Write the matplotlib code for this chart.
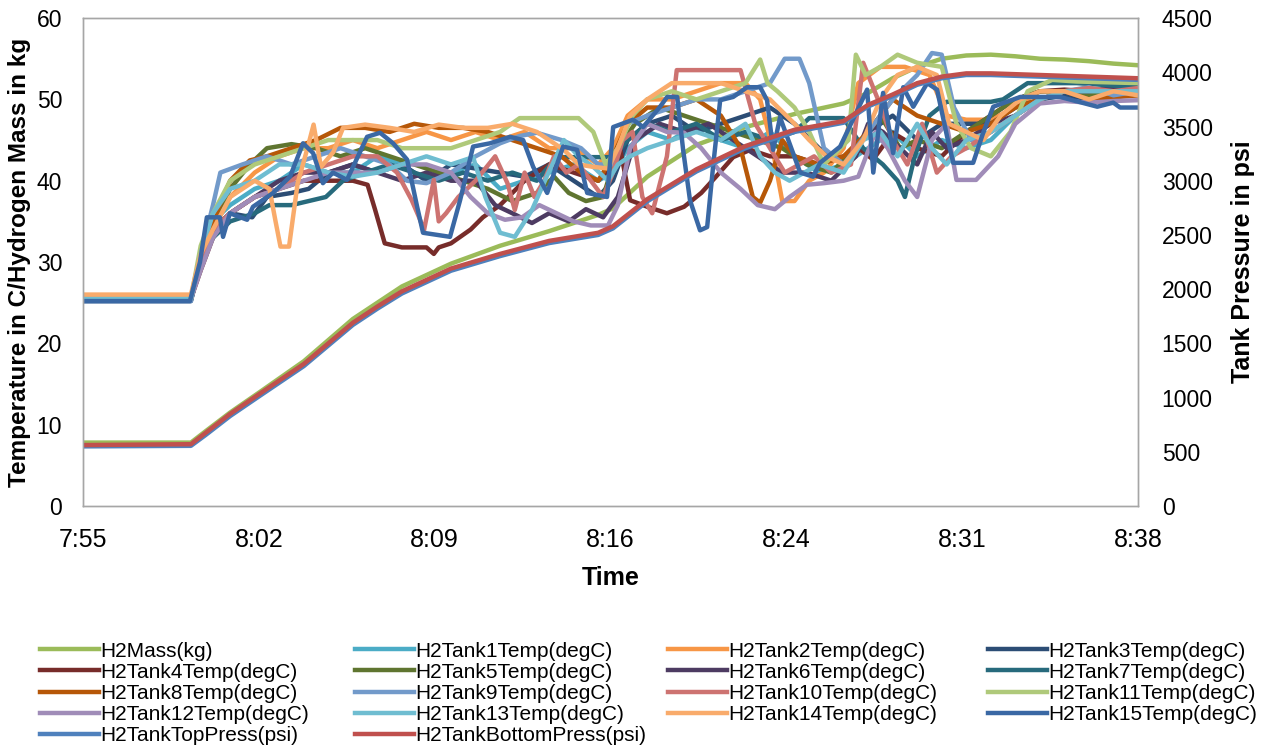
import numpy as np
import matplotlib
matplotlib.use("Agg")
from matplotlib import pyplot as plt

plt.rcParams['font.family'] = ['Liberation Sans', 'DejaVu Sans']

# time axis: minutes after 7:55
span = 43.0
tick_labels = ['7:55', '8:02', '8:09', '8:16', '8:24', '8:31', '8:38']

# (minute, kg)
mass = [(0, 7.8), (4.4, 7.8), (5, 9.2), (6, 11.5), (7.2, 14.0), (9, 17.8), (11, 23.0),
        (12, 25.0), (13, 27.0), (15, 29.8), (17, 32.0), (19, 33.8), (21, 35.8),
        (21.6, 36.6), (23, 40.5), (25, 44.4), (27, 46.6), (29, 48.2), (31, 49.5),
        (32, 50.8), (33, 52.6), (34, 54.0), (35, 55.0), (36, 55.4), (37, 55.5),
        (38, 55.3), (39, 55.0), (40, 54.9), (41, 54.7), (42, 54.4), (43, 54.2)]

# (minute, degC)
tank1 = [(0, 25.5), (4.4, 25.5), (4.8, 31), (5.3, 35), (6, 37), (7, 39), (8, 40), (9, 42),
         (10, 41), (11, 41), (12, 43), (13, 42), (14, 40), (15, 41), (16, 42), (17, 39),
         (18, 40), (19, 41), (20, 42), (21, 40), (21.6, 41), (22.2, 44), (23, 46), (24, 45),
         (25, 47), (26, 45), (27, 44), (28, 46), (29, 43), (30, 41), (31, 42), (32, 44),
         (33, 46), (34, 43), (35, 45), (36, 44), (37, 45), (38, 48), (39, 50), (40, 50.5),
         (41, 51), (43, 50.5)]
tank2 = [(0, 25.8), (4.4, 25.8), (4.8, 30), (5.3, 34), (6, 38), (7, 41), (8, 43), (9, 44),
         (10, 44), (11, 45), (12, 44), (13, 45), (14, 46), (15, 45), (16, 46), (17, 45),
         (18, 46), (19, 44), (20, 44), (21, 42), (21.6, 44), (22.2, 48), (23, 50), (24, 50),
         (25, 51), (26, 52), (27, 52), (27.6, 50), (28.1, 44), (28.5, 37.5), (29, 37.5),
         (29.6, 40), (30.2, 41), (31, 44), (31.6, 52), (32.5, 54), (33.5, 54), (34.5, 53),
         (35.2, 48), (36, 47.5), (37, 47.5), (38, 49), (39, 51), (40, 51), (41, 50),
         (42, 51), (43, 50.5)]
tank3 = [(0, 25.2), (4.4, 25.2), (4.8, 30), (5.3, 34), (6, 36), (6.9, 35.5), (7.5, 38),
         (8.5, 38.5), (9.2, 39), (10, 41), (11, 42), (12, 41), (13, 42), (14, 40), (15, 42),
         (16, 41.5), (17, 41), (18, 40.5), (19, 42), (20, 40), (21, 38), (21.6, 40),
         (22.2, 45), (23, 47), (24, 48), (25, 46), (26, 47), (27, 48), (28, 49), (29, 47),
         (30, 44), (31, 42), (32, 46), (33, 48), (34, 45), (35, 47), (36, 47), (37, 47),
         (38, 49), (39, 50), (40, 50.5), (41, 50), (43, 51)]
tank4 = [(0, 25.5), (4.4, 25.5), (4.8, 29), (5.3, 33), (6, 36), (7, 38), (8, 39), (9, 40),
         (10, 40), (11, 40), (11.6, 39.5), (11.9, 36.5), (12.3, 32.3), (13, 31.8),
         (14, 31.8), (14.3, 31), (14.5, 31.8), (15, 32.3), (15.8, 34), (16.3, 35.5),
         (17, 37), (18, 40), (19, 42), (20, 41), (21, 40), (21.6, 42), (21.9, 43.8),
         (22.3, 37.6), (23, 36.8), (23.8, 36), (24.5, 36.8), (25.2, 38.5), (25.8, 40.5),
         (26.5, 42.9), (27.2, 43.8), (28, 43), (29, 43), (30, 42), (31, 43), (31.7, 43.8),
         (32.2, 42.6), (33, 45.9), (33.5, 45), (34, 44), (35, 43), (36, 46), (37, 48),
         (38, 50), (39, 51), (40, 51.2), (41, 51), (43, 51)]
tank5 = [(0, 25.5), (4.4, 25.5), (4.8, 30), (5.3, 35), (6, 39), (6.8, 42), (7.5, 44),
         (8.5, 44.5), (9.5, 44), (10.5, 43), (11.5, 44), (12.5, 43), (13.5, 42), (14.5, 41),
         (15.5, 40), (16.5, 39), (17.5, 37.5), (18.5, 38.5), (19.2, 40.5), (19.8, 38.5),
         (20.5, 37.5), (21.2, 38), (21.8, 44), (22.5, 47), (23.5, 49), (24.5, 48),
         (25.5, 47), (26.5, 46), (27.5, 45), (28.5, 44), (29.5, 42), (30.5, 41), (31.5, 44),
         (32.5, 48), (33.3, 44), (34, 45), (35, 44), (36, 46), (37, 48), (38, 50), (39, 51),
         (40, 51), (41, 50.5), (43, 51)]
tank6 = [(0, 25.5), (4.4, 25.5), (4.8, 30), (5.3, 34), (6, 36), (7, 38), (8, 40), (9, 41),
         (10, 41), (11, 42), (12, 41), (13, 40), (14, 41), (15, 40), (16, 40), (16.8, 37),
         (17.5, 36), (18.3, 34.8), (19, 36), (19.8, 35), (20.5, 36.5), (21.2, 35.5),
         (21.8, 38), (22.5, 45), (23.5, 47), (24.5, 46), (25.5, 47), (26.5, 45), (27.5, 43),
         (28.5, 41), (29.5, 41), (30.5, 40), (31.5, 43), (32, 47), (32.6, 46), (33.3, 44),
         (34, 42), (34.6, 46), (35.2, 44), (36, 45), (37, 47), (38, 48), (39, 50), (40, 51),
         (41, 51), (42, 51.5), (43, 51.4)]
tank7 = [(0, 25.3), (4.4, 25.3), (4.8, 30), (5.3, 33), (6, 35), (7, 36), (7.6, 37), (8.5, 37),
         (9.2, 37.5), (9.9, 38), (10.6, 40), (11.5, 41), (12.5, 42), (13.5, 41), (14.5, 40),
         (15.5, 41), (16.5, 40), (17.5, 41), (18.5, 40), (19.3, 42.9), (20, 42.9),
         (21, 42.9), (21.6, 42.9), (22.2, 45), (23, 47), (24, 46), (25, 47), (26, 45),
         (27, 46), (28, 45), (29, 46), (29.6, 47.7), (30.4, 47.7), (31, 47.7), (31.8, 44),
         (32.6, 42), (33.2, 40), (33.5, 38), (33.9, 43), (34.5, 48), (35.2, 49.7),
         (36, 49.7), (37, 49.7), (37.5, 50), (38.5, 52), (39.5, 52), (40.5, 52), (43, 51.5)]
tank8 = [(0, 25.5), (4.4, 25.5), (4.8, 31), (5.3, 35), (6, 40), (6.8, 42.5), (7.5, 43),
         (8.5, 44), (9.5, 45), (10.5, 46.5), (11.5, 46.5), (12.5, 46), (13.5, 47),
         (14.5, 46.5), (15.5, 46.5), (16.5, 46), (17.5, 45), (18.5, 44), (19.5, 43),
         (20.3, 41), (21, 40), (21.6, 43), (22.2, 47), (23, 49), (24, 49), (25, 50), (26, 48),
         (26.8, 44), (27.3, 38), (27.6, 37.3), (28, 40), (28.5, 45), (29, 43), (30, 42),
         (31, 43), (32, 46), (33, 50), (34, 48), (35, 47), (36, 46), (37, 47), (38, 49),
         (39, 50), (40, 51), (41, 50), (43, 50.5)]
tank9 = [(0, 25.2), (4.4, 25.2), (4.8, 31), (5.3, 37), (5.6, 41), (6.5, 42), (7.5, 43),
         (8.5, 42), (9.5, 43), (10.5, 44), (11.5, 43), (12.5, 42), (13.2, 40), (14, 39.7),
         (15, 41), (16, 43), (17, 44.6), (17.8, 45.5), (18.5, 45.9), (19.5, 45), (20.3, 44),
         (21, 42), (21.6, 42), (22.2, 47), (23, 48), (24, 49), (25, 50), (26, 50), (27, 51),
         (28, 52), (28.6, 55), (29.2, 55), (29.6, 52), (30.2, 44), (31, 42), (32, 46),
         (33, 50), (34, 53), (34.6, 55.7), (35, 55.5), (35.5, 49), (36.2, 45), (37, 46),
         (38, 48), (39, 50), (40, 51), (41, 51.5), (42, 50.5), (43, 51)]
tank10 = [(0, 25.5), (4.4, 25.5), (4.8, 30), (5.3, 34), (6, 36), (7, 38), (8, 39), (9, 41),
          (10, 42), (11, 43), (12, 43), (12.8, 41), (13.4, 37.6), (13.7, 35.5), (13.9, 33.9),
          (14.1, 37), (14.3, 40.1), (14.5, 35), (14.8, 36), (15.3, 38), (16, 40), (16.8, 43),
          (17.3, 39.7), (17.6, 36.4), (18, 41), (18.4, 38), (18.8, 40), (19.2, 43),
          (19.7, 41), (20.2, 42), (20.7, 40), (21.2, 38), (21.6, 41), (22, 45), (22.4, 46),
          (22.8, 38), (23.2, 36), (23.8, 43), (24.2, 53.6), (26.8, 53.6), (27.4, 47),
          (28, 44), (28.6, 41), (29.2, 42), (29.8, 43), (30.5, 41), (31.3, 42), (31.8, 54.5),
          (32.4, 50), (33, 45), (33.6, 42), (34.2, 47), (34.8, 41), (35.4, 43), (36, 44),
          (37, 46), (38, 48), (39, 50), (40, 51), (41, 51.4), (42, 51), (43, 51.4)]
tank11 = [(0, 25.5), (4.4, 25.5), (4.8, 32), (5.3, 36), (6, 40), (7, 42), (8, 43), (9, 44),
          (10, 45), (11, 45), (12, 45), (13, 44), (14, 44), (15, 44), (16, 45), (17, 46),
          (17.8, 47.7), (18.5, 47.7), (19.5, 47.7), (20.2, 47.7), (20.8, 46), (21.3, 42),
          (21.8, 44), (22.4, 48), (23, 50), (24, 51), (25, 50), (26, 51), (27, 52),
          (27.6, 54.9), (27.9, 52), (28.3, 51), (29, 49), (29.6, 46), (30.2, 42), (31.2, 45),
          (31.5, 55.5), (31.9, 53), (32.5, 54), (33.2, 55.5), (34, 54.5), (35, 54),
          (35.6, 47), (36.2, 44), (37, 43), (37.8, 46), (38.5, 51), (39.5, 52.4),
          (40.5, 52.2), (43, 52)]
tank12 = [(0, 25.5), (4.4, 25.5), (4.8, 29), (5.3, 33), (6, 36), (7, 38), (8, 39), (9, 40),
          (10, 41), (11, 41), (12, 41), (13, 42), (14, 42), (15, 41), (15.8, 38), (16.5, 36),
          (17.2, 35.2), (17.9, 35.5), (18.6, 37), (19.3, 36), (20, 35), (20.7, 34.5),
          (21.4, 34.5), (21.8, 37), (22.3, 44), (23, 47), (23.8, 46), (24.5, 45.9),
          (25.2, 44), (26, 41), (26.8, 39), (27.5, 37), (28.2, 36.5), (28.8, 38), (29.5, 39.5),
          (30.2, 39.7), (31, 40), (31.6, 40.5), (32.3, 46), (32.8, 44), (33.5, 40), (34, 38),
          (34.6, 45), (35.2, 47), (35.6, 40.1), (36.4, 40.1), (37.3, 43), (38, 47),
          (39, 49.5), (40, 49.8), (41, 49.6), (42, 49.8), (43, 49.9)]
tank13 = [(0, 25.5), (4.4, 25.5), (4.8, 31), (5.3, 36), (6, 39), (7, 40), (8, 42), (9, 42),
          (10, 41), (11, 40.5), (12, 41), (13, 42), (14, 43), (15, 42), (15.9, 42.9),
          (16.4, 38), (17, 33.6), (17.6, 33.1), (18.3, 36.4), (18.9, 40.5), (19.6, 45),
          (20.2, 43), (20.8, 41.7), (21.4, 40), (21.8, 42), (22.3, 43), (23, 44), (24, 45),
          (25, 46), (26, 45), (27, 47), (27.6, 43), (28.2, 41), (28.8, 40), (29.4, 41),
          (30, 42), (31, 41), (31.8, 45), (32.5, 46), (33.2, 43), (34, 47), (34.6, 44),
          (35.2, 42), (36, 45), (37, 46), (38, 48), (39, 50), (40, 51), (41, 51), (43, 51)]
tank14 = [(0, 26), (4.4, 26), (4.8, 31), (5.3, 34), (6, 38), (7, 40), (7.6, 39), (7.85, 35),
          (8.05, 31.9), (8.4, 31.9), (8.75, 39.7), (9.15, 44), (9.4, 46.9), (9.7, 41.7),
          (10.2, 43.5), (10.6, 46.5), (11.5, 46.9), (12.5, 46.5), (13.5, 46), (14.5, 46.9),
          (15.5, 46.5), (16.5, 46.5), (17.5, 47), (18.5, 46), (19.6, 43.8), (20.2, 42),
          (20.8, 41.7), (21.4, 41.5), (21.8, 44), (22.3, 48), (23, 50), (24, 52), (25, 52),
          (26, 52), (27, 51), (28, 50), (29, 47), (29.6, 45), (30.3, 43), (31, 42),
          (31.8, 45), (32.5, 50), (33.2, 53), (34, 54), (34.8, 53), (35.3, 47), (36, 46),
          (36.7, 45), (37.4, 48), (38.2, 50), (39, 51), (40, 51), (41, 50), (42, 51),
          (43, 50.5)]
tank15 = [(0, 25.2), (4.36, 25.2), (4.77, 30), (5.05, 35.5), (5.58, 35.5), (5.71, 33.1),
          (5.99, 36), (6.69, 35.2), (6.93, 36.8), (7.75, 38.5), (8.44, 40.5), (8.97, 44.6),
          (9.38, 43.4), (9.78, 39.7), (10.19, 41), (10.76, 40.1), (11.58, 45.4),
          (12.11, 45.9), (12.64, 44.6), (13.21, 42.6), (13.62, 36.8), (13.86, 33.6),
          (14.96, 33.1), (15.37, 37.6), (15.9, 44.2), (16.59, 44.6), (17.41, 45.4),
          (17.94, 45), (18.35, 41.7), (18.92, 38.5), (19.57, 44.2), (20.14, 43.8),
          (20.55, 38.5), (21.36, 38), (21.61, 46.6), (22.42, 47.5), (22.83, 46.6),
          (23.52, 49.1), (23.81, 50.3), (24.22, 50.3), (24.46, 43.8), (24.74, 37.6),
          (25.15, 33.9), (25.44, 34.3), (25.68, 41.7), (25.97, 49.9), (26.5, 50.3),
          (27.07, 51.5), (27.6, 51.5), (27.88, 49.9), (28.13, 43.8), (28.41, 47.8),
          (29.23, 41), (29.76, 40.5), (30.04, 42.2), (30.86, 44.2), (31.96, 51.2),
          (32.21, 41), (32.61, 50.8), (33.02, 43.4), (33.43, 51.5), (33.84, 49.1),
          (34.41, 52), (34.81, 51.2), (35.22, 45.4), (35.47, 42.2), (36.28, 42.2),
          (36.69, 45.9), (37.1, 49.1), (38.2, 50.3), (39.83, 50.3), (41.34, 49.1),
          (41.99, 49.6), (42.27, 49), (43, 49)]

# (minute, psi)
top_press = [(0, 550), (4.4, 555), (5, 655), (6, 830), (7.2, 1015), (9, 1290), (11, 1670),
             (12, 1820), (13, 1960), (15, 2170), (17, 2305), (19, 2425), (21, 2500),
             (21.6, 2560), (23, 2810), (25, 3085), (27, 3300), (29, 3450), (31, 3535),
             (32, 3685), (33, 3780), (34, 3885), (35, 3945), (36, 3975), (37, 3975),
             (39, 3960), (41, 3945), (43, 3930)]
bottom_press = [(0, 562), (4.4, 570), (5, 675), (6, 850), (7.2, 1035), (9, 1310), (11, 1690),
                (12, 1840), (13, 1980), (15, 2190), (17, 2325), (19, 2445), (21, 2520),
                (21.6, 2580), (23, 2830), (25, 3105), (27, 3320), (29, 3470), (31, 3550),
                (32, 3700), (33, 3795), (34, 3900), (35, 3960), (36, 3990), (37, 3990),
                (39, 3975), (41, 3960), (43, 3945)]

left_series = [('H2Mass(kg)', mass, '#9BBB59'),
               ('H2Tank1Temp(degC)', tank1, '#4BACC6'),
               ('H2Tank2Temp(degC)', tank2, '#F79646'),
               ('H2Tank3Temp(degC)', tank3, '#2C4D75'),
               ('H2Tank4Temp(degC)', tank4, '#772C2A'),
               ('H2Tank5Temp(degC)', tank5, '#5F7530'),
               ('H2Tank6Temp(degC)', tank6, '#4D3B62'),
               ('H2Tank7Temp(degC)', tank7, '#276A7C'),
               ('H2Tank8Temp(degC)', tank8, '#B65708'),
               ('H2Tank9Temp(degC)', tank9, '#729ACA'),
               ('H2Tank10Temp(degC)', tank10, '#CD7371'),
               ('H2Tank11Temp(degC)', tank11, '#AFC97A'),
               ('H2Tank12Temp(degC)', tank12, '#A08CB8'),
               ('H2Tank13Temp(degC)', tank13, '#6FBDD1'),
               ('H2Tank14Temp(degC)', tank14, '#F9AB6B'),
               ('H2Tank15Temp(degC)', tank15, '#3A68A4')]
right_series = [('H2TankTopPress(psi)', top_press, '#4F81BD'),
                ('H2TankBottomPress(psi)', bottom_press, '#C0504D')]

fig = plt.figure(figsize=(12.82, 7.53), dpi=100)
ax = fig.add_axes([0.0647, 0.328, 0.823, 0.648])
ax2 = ax.twinx()

lw = 3.2
handles = []
for name, pts, col in left_series:
    t, v = zip(*pts)
    h, = ax.plot(t, v, color=col, lw=lw, label=name, solid_joinstyle='round')
    handles.append(h)
for name, pts, col in right_series:
    t, v = zip(*pts)
    h, = ax2.plot(t, v, color=col, lw=lw, label=name, solid_joinstyle='round')
    handles.append(h)

ax.set_xlim(0, span)
ax.set_ylim(0, 60)
ax2.set_ylim(0, 4500)
ax.set_xticks(np.linspace(0, span, 7))
ax.set_xticklabels(tick_labels)
ax.set_yticks(range(0, 61, 10))
ax2.set_yticks(range(0, 4501, 500))

for a in (ax, ax2):
    for s in a.spines.values():
        s.set_color('#A6A6A6')
        s.set_linewidth(1.0)
    a.tick_params(length=0, labelsize=16.5, pad=15)
ax.tick_params(axis='x', labelsize=18, pad=16)
ax2.tick_params(axis='y', pad=17)

ax.set_xlabel('Time', fontsize=18, fontweight='bold')
ax.xaxis.set_label_coords(0.5, -0.1475)
ax.xaxis.label.set_va('center')
ax.set_ylabel('Temperature in C/Hydrogen Mass in kg', fontsize=17.5, fontweight='bold')
ax.yaxis.set_label_coords(-0.0597, 0.5)
ax.yaxis.label.set_va('center')
ax2.set_ylabel('Tank Pressure in psi', fontsize=18, fontweight='bold')
ax2.yaxis.set_label_coords(1.0995, 0.5)
ax2.yaxis.label.set_va('center')

# legend: 4 fixed columns, filled row by row like the original
col_x = [0.0312, 0.2769, 0.5211, 0.7707]
for c in range(4):
    idx = list(range(c, len(handles), 4))
    fig.legend([handles[i] for i in idx], [handles[i].get_label() for i in idx],
               loc='upper left', bbox_to_anchor=(col_x[c], 0.1478), frameon=False,
               fontsize=15, handlelength=2.85, handletextpad=0.05, labelspacing=0.1,
               borderaxespad=0, borderpad=0)

fig.savefig('out.png', dpi=100)
